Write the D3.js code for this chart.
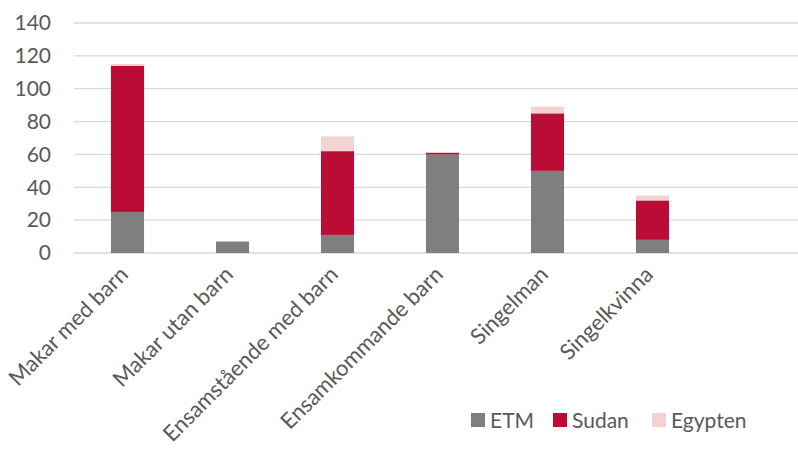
<!DOCTYPE html>
<html>
<head>
<meta charset="utf-8">
<script src="https://cdn.jsdelivr.net/npm/d3@7"></script>
<style>
  body { margin: 0; background: #fff; }
  svg { display: block; font-family: Lato, "Open Sans", sans-serif; }
</style>
</head>
<body>
<svg id="chart" width="798" height="453"></svg>
<script>
// categories incl. empty trailing slot, like the original sheet
const categories = ["Makar med barn", "Makar utan barn", "Ensamstående med barn", "Ensamkommande barn", "Singelman", "Singelkvinna", ""];
const etm     = [25, 7, 11, 60, 50, 8, 0];
const sudan   = [89, 0, 51, 1, 35, 24, 0];
const egypten = [1, 0, 9, 0, 4, 3, 0];
const seriesNames = ["ETM", "Sudan", "Egypten"];
const yTicks = [0, 20, 40, 60, 80, 100, 120, 140];

const colors = { ETM: "#7f7f7f", Sudan: "#ba0c35", Egypten: "#f2d2d2" };

const svg = d3.select("#chart");
const plotLeft = 75, plotRight = 810, plotTop = 23, plotBottom = 253;

const rows = categories.map((c, i) => ({ cat: c, ETM: etm[i], Sudan: sudan[i], Egypten: egypten[i] }));

const x = d3.scaleBand().domain(categories).range([plotLeft, plotRight]).paddingInner(0.685).paddingOuter(0.3425);
const y = d3.scaleLinear().domain([0, 140]).range([plotBottom, plotTop]);

// gridlines
svg.append("g").selectAll("line").data(yTicks).join("line")
  .attr("x1", plotLeft - 1).attr("x2", 798)
  .attr("y1", d => y(d)).attr("y2", d => y(d))
  .attr("stroke", "#d9d9d9").attr("stroke-width", 1.3);

// y axis labels
const yAxis = svg.append("g").attr("transform", `translate(${plotLeft - 24},0)`)
  .call(d3.axisLeft(y).tickValues(yTicks).tickSize(0).tickPadding(0));
yAxis.select(".domain").remove();
yAxis.selectAll("text").attr("fill", "#595959").style("font-size", "21px").style("font-family", "Lato, sans-serif");

// stacked bars
const stack = d3.stack().keys(seriesNames)(rows);
svg.append("g").selectAll("g").data(stack).join("g")
  .attr("fill", d => colors[d.key])
  .selectAll("rect").data(d => d).join("rect")
  .attr("x", d => x(d.data.cat))
  .attr("width", x.bandwidth())
  .attr("y", d => y(d[1]))
  .attr("height", d => y(d[0]) - y(d[1]));

// x labels rotated
svg.append("g").selectAll("text").data(categories.filter(c => c)).join("text")
  .attr("transform", d => `translate(${x(d) + x.bandwidth() / 2 - 9},${plotBottom + 12}) rotate(-45)`)
  .attr("text-anchor", "end")
  .attr("dy", "0.7em")
  .attr("fill", "#595959")
  .style("font-size", "22px")
  .text(d => d);

// legend
const legendX = [471, 553, 652];
const legend = svg.append("g").selectAll("g").data(seriesNames).join("g")
  .attr("transform", (d, i) => `translate(${legendX[i]},413)`);
legend.append("rect").attr("width", 14).attr("height", 14).attr("fill", d => colors[d]);
legend.append("text").attr("x", 19).attr("y", 7).attr("dy", "0.36em")
  .attr("fill", "#595959").style("font-size", "21px").text(d => d);
</script>
</body>
</html>
